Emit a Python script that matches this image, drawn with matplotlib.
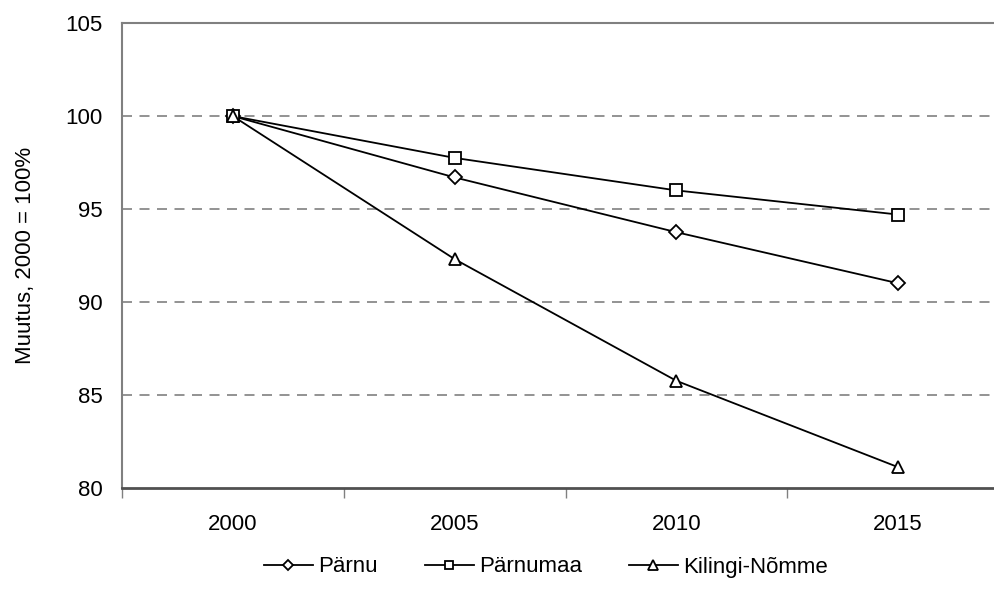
import matplotlib
matplotlib.use("Agg")
import matplotlib.pyplot as plt
import numpy as np

plt.rcParams["font.family"] = ["Liberation Sans", "DejaVu Sans"]

years = ["2000", "2005", "2010", "2015"]
parnu = [100.0, 96.7, 93.75, 91.0]
parnumaa = [100.0, 97.75, 96.0, 94.7]
kilingi = [100.0, 92.3, 85.75, 81.1]
series = ["Pärnu", "Pärnumaa", "Kilingi-Nõmme"]

fig = plt.figure(figsize=(9.95, 6.08), dpi=100)
ax = fig.add_axes([0.1226, 0.198, 0.8915, 0.7638])

x = np.arange(len(years))
style = dict(color="black", lw=1.3, markerfacecolor="white", markeredgecolor="black", markeredgewidth=1.3)
ax.plot(x, parnu, marker="D", ms=7, label=series[0], **style)
ax.plot(x, parnumaa, marker="s", ms=8.5, label=series[1], **style)
ax.plot(x, kilingi, marker="^", ms=9, label=series[2], **style)

ax.set_xlim(-0.5, 3.5)
ax.set_ylim(80, 105)
ax.set_yticks([80, 85, 90, 95, 100, 105])
ax.set_xticks(x)
ax.set_xticklabels(years)
ax.set_xticks(np.arange(-0.5, 4, 1), minor=True)
ax.tick_params(axis="x", which="major", length=0, pad=19, labelsize=16)
ax.tick_params(axis="x", which="minor", length=7, width=1, color="#808080", direction="out")
ax.tick_params(axis="y", length=0, pad=14, labelsize=16)

for v in [85, 90, 95, 100]:
    ax.axhline(v, color="#808080", lw=1.2, ls=(0, (6, 4.5)), zorder=0)

ax.spines["right"].set_visible(False)
ax.spines["top"].set_color("#808080")
ax.spines["left"].set_color("#808080")
ax.spines["top"].set_linewidth(1.5)
ax.spines["left"].set_linewidth(1.5)
ax.spines["bottom"].set_color("#505050")
ax.spines["bottom"].set_linewidth(2)

ax.set_ylabel("Muutus, 2000 = 100%", fontsize=16)
ax.yaxis.set_label_coords(-0.097, 0.5)

fig.legend(loc="center", bbox_to_anchor=(546 / 995, 1 - 567 / 608), ncol=3, frameon=False,
           fontsize=16, handlelength=2.2, handletextpad=0.25, columnspacing=2.1, markerscale=0.75)

plt.savefig("out.png", dpi=100)
